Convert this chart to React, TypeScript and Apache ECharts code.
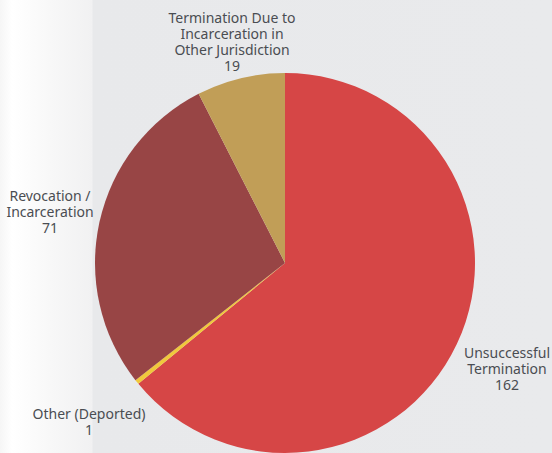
import React, { useEffect, useRef } from "react";
import * as echarts from "echarts";

const categories = [
  "Unsuccessful\nTermination",
  "Other (Deported)",
  "Revocation /\nIncarceration",
  "Termination Due to\nIncarceration in\nOther Jurisdiction",
];
const values = [162, 1, 71, 19];
const colors = ["#d64646", "#f0c83c", "#984545", "#c19e57"];
const labelPos: [number, number][] = [
  [507, 368],
  [89, 421],
  [50, 211],
  [232, 41],
];

export default function App() {
  const ref = useRef<HTMLDivElement>(null);
  useEffect(() => {
    if (!ref.current) return;
    const chart = echarts.init(ref.current, undefined, { renderer: "svg" });
    chart.setOption({
      animation: false,
      backgroundColor: "transparent",
      series: [
        {
          type: "pie",
          center: [285, 263],
          radius: [0, 190],
          startAngle: 90,
          clockwise: true,
          avoidLabelOverlap: false,
          label: {
            show: true,
            position: "outside",
            formatter: (p: any) => `${p.name}\n${p.value}`,
            color: "#4a4d52",
            fontFamily: "Noto Sans",
            fontSize: 14,
            lineHeight: 16,
            align: "center",
          },
          labelLine: { show: false },
          labelLayout: (params: any) => {
            const pos = labelPos[params.dataIndex];
            return { x: pos[0], y: pos[1], align: "center", verticalAlign: "middle" };
          },
          emphasis: { disabled: true },
          itemStyle: { borderWidth: 0 },
          data: categories.map((c, i) => ({
            name: c,
            value: values[i],
            itemStyle: { color: colors[i] },
          })),
        },
      ],
    });
    return () => chart.dispose();
  }, []);
  return (
    <div
      style={{
        position: "fixed",
        left: 0,
        top: 0,
        width: 552,
        height: 453,
        background:
          "linear-gradient(to right, #f6f6f6 0px, #ffffff 12px, #f8f8f8 50px, #f1f1f2 92px, #e8e9eb 93px, #e9eaec 552px)",
      }}
    >
      <div ref={ref} style={{ width: 552, height: 453 }} />
    </div>
  );
}
